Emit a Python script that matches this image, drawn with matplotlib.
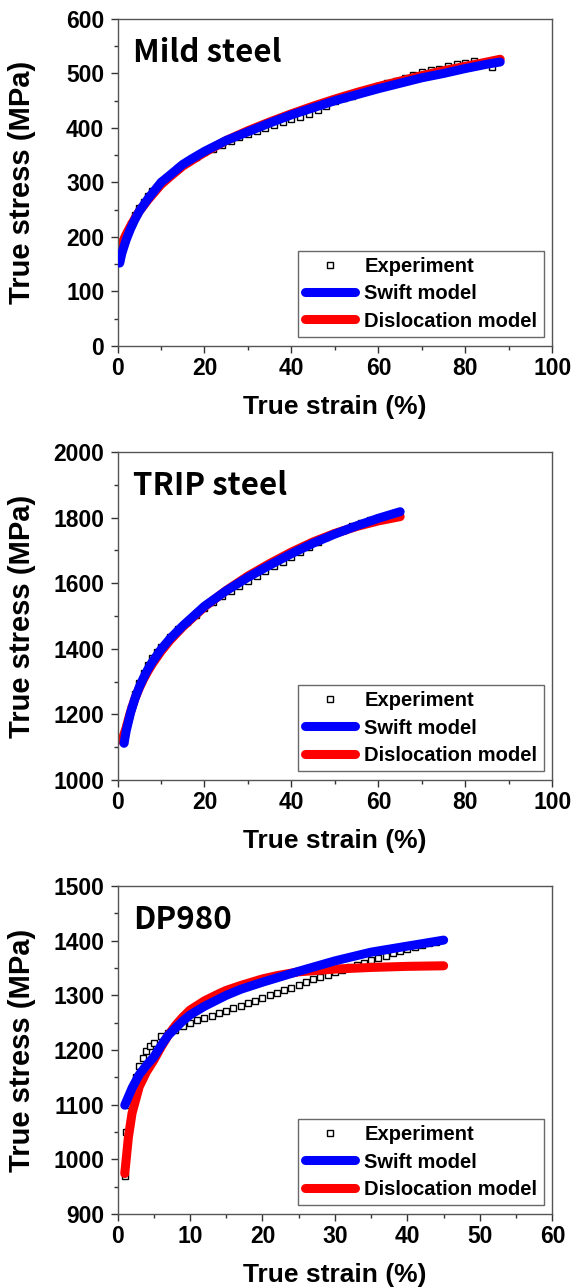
import matplotlib.pyplot as plt
from matplotlib.ticker import MultipleLocator

# ---- Mild steel (strain %, stress MPa)
mild_exp_x = [0.5, 1, 2, 3, 4, 5, 6, 7, 8, 9, 10, 12, 14, 16, 18, 20, 22, 24, 26, 28, 30,
              32, 34, 36, 38, 40, 42, 44, 46, 48, 50, 52, 54, 56, 58, 60, 62, 64, 66, 68,
              70, 72, 74, 76, 78, 80, 82, 84, 86]
mild_exp_y = [160, 178, 203, 224, 240, 254, 265, 275, 284, 292, 300, 314, 326, 337, 347, 355,
              362, 369, 376, 383, 389, 395, 400, 406, 411, 416, 420, 425, 433, 440, 450, 455,
              459, 467, 472, 477, 482, 486, 491, 498, 503, 507, 508, 513, 518, 520, 522, 517, 512]
mild_swift_x = [0.5, 1, 2, 3, 4, 5, 7, 10, 12, 15, 17, 20, 25, 30, 35, 40, 45, 50, 55, 60, 65,
                70, 75, 80, 85, 88]
mild_swift_y = [152, 170, 195, 215, 232, 247, 270, 300, 313, 333, 343, 357, 377, 393, 409, 424,
                437, 450, 461, 472, 482, 492, 500, 509, 517, 521]
mild_disl_x = [0.3, 1, 2, 3, 4, 5, 7, 10, 12, 15, 17, 20, 25, 30, 35, 40, 45, 50, 55, 60, 65,
               70, 75, 80, 85, 88]
mild_disl_y = [175, 188, 205, 220, 234, 247, 268, 296, 310, 330, 340, 355, 377, 395, 411, 426,
               440, 453, 465, 476, 486, 496, 505, 513, 521, 526]

# ---- TRIP steel
trip_exp_x = [1.5, 2, 3, 4, 5, 6, 7, 8, 9, 10, 12, 14, 16, 18, 20, 22, 24, 26, 28, 30, 32, 34,
              36, 38, 40, 42, 44, 46, 48, 50, 52, 54, 56, 58, 60, 62, 64]
trip_exp_y = [1120, 1165, 1220, 1262, 1295, 1325, 1350, 1372, 1390, 1405, 1435, 1460, 1482, 1503,
              1524, 1543, 1560, 1576, 1591, 1606, 1621, 1636, 1651, 1666, 1681, 1696, 1710, 1725,
              1740, 1752, 1762, 1773, 1783, 1792, 1800, 1806, 1812]
trip_swift_x = [1.5, 2, 3, 4, 5, 6, 7, 8, 10, 12, 15, 20, 25, 30, 35, 40, 45, 50, 55, 60, 65]
trip_swift_y = [1112, 1150, 1205, 1248, 1283, 1312, 1338, 1360, 1398, 1430, 1470, 1530, 1577,
                1618, 1655, 1690, 1722, 1750, 1775, 1798, 1818]
trip_disl_x = [1, 2, 3, 4, 5, 6, 7, 8, 10, 12, 15, 20, 25, 30, 35, 40, 45, 50, 55, 60, 65]
trip_disl_y = [1120, 1160, 1208, 1248, 1280, 1308, 1332, 1354, 1392, 1425, 1467, 1528, 1578,
               1622, 1660, 1695, 1726, 1752, 1773, 1790, 1803]

# ---- DP980
dp_exp_x = [1, 1.2, 1.5, 2, 2.5, 3, 3.5, 4, 4.5, 5, 6, 7, 8, 9, 10, 11, 12, 13, 14, 15, 16, 17,
            18, 19, 20, 21, 22, 23, 24, 25, 26, 27, 28, 29, 30, 31, 32, 33, 34, 35, 36, 37, 38,
            39, 40, 41, 42, 43, 44]
dp_exp_y = [970, 1050, 1100, 1130, 1150, 1170, 1185, 1198, 1207, 1213, 1225, 1232, 1237, 1243,
            1249, 1254, 1258, 1262, 1267, 1271, 1276, 1281, 1286, 1290, 1296, 1300, 1305, 1310,
            1314, 1319, 1324, 1329, 1334, 1338, 1343, 1347, 1352, 1356, 1360, 1364, 1368, 1372,
            1377, 1381, 1385, 1389, 1392, 1395, 1398]
dp_swift_x = [1, 2, 3, 4, 5, 6, 7, 8, 9, 10, 12, 15, 17, 20, 25, 30, 35, 40, 45]
dp_swift_y = [1099, 1130, 1155, 1172, 1187, 1208, 1227, 1240, 1253, 1264, 1280, 1300, 1311,
              1324, 1344, 1363, 1379, 1390, 1401]
dp_disl_x = [1, 1.5, 2, 3, 4, 5, 6, 7, 8, 9, 10, 12, 14, 15, 17, 20, 22, 25, 30, 35, 40, 45]
dp_disl_y = [974, 1040, 1084, 1133, 1160, 1181, 1205, 1227, 1245, 1260, 1273, 1290, 1303, 1309,
             1318, 1330, 1336, 1343, 1348, 1351, 1353, 1354]

panels = [
    ("Mild steel", mild_exp_x, mild_exp_y, mild_swift_x, mild_swift_y, mild_disl_x, mild_disl_y,
     (0, 100), 20, 10, (0, 600), 100, 50),
    ("TRIP steel", trip_exp_x, trip_exp_y, trip_swift_x, trip_swift_y, trip_disl_x, trip_disl_y,
     (0, 100), 20, 10, (1000, 2000), 200, 100),
    ("DP980", dp_exp_x, dp_exp_y, dp_swift_x, dp_swift_y, dp_disl_x, dp_disl_y,
     (0, 60), 10, 5, (900, 1500), 100, 50),
]
# axes boxes (left, bottom, width, height) in figure fractions
boxes = [(0.204, 0.7312, 0.755, 0.2541),
         (0.204, 0.3939, 0.755, 0.2549),
         (0.204, 0.0567, 0.755, 0.2549)]

plt.rcParams['font.family'] = ['Liberation Sans', 'DejaVu Sans']
plt.rcParams['font.weight'] = 'bold'

fig = plt.figure(figsize=(5.76, 12.87), dpi=100)
for (title, ex, ey, sx, sy, dx, dy, xlim, xmaj, xmin, ylim, ymaj, ymin), box in zip(panels, boxes):
    ax = fig.add_axes(box)
    h1, = ax.plot(ex, ey, ls='none', marker='s', ms=4, mfc='white', mec='black', mew=1, zorder=1)
    h3, = ax.plot(dx, dy, color='#ff0000', lw=6.5, solid_capstyle='round', zorder=2)
    h2, = ax.plot(sx, sy, color='#0000ff', lw=6.5, solid_capstyle='round', zorder=3)
    ax.set_xlim(*xlim)
    ax.set_ylim(*ylim)
    ax.xaxis.set_major_locator(MultipleLocator(xmaj))
    ax.xaxis.set_minor_locator(MultipleLocator(xmin))
    ax.yaxis.set_major_locator(MultipleLocator(ymaj))
    ax.yaxis.set_minor_locator(MultipleLocator(ymin))
    ax.tick_params(which='major', direction='out', length=5, width=1, labelsize=16.5, color='#333333')
    ax.tick_params(which='minor', direction='out', length=3, width=1, color='#333333')
    ax.tick_params(axis='x', which='major', pad=3)
    ax.tick_params(axis='y', which='major', pad=4.5)
    for lab in ax.get_xticklabels() + ax.get_yticklabels():
        lab.set_fontweight('bold')
    for sp in ax.spines.values():
        sp.set_color('#555555')
        sp.set_linewidth(1)
    ax.set_xlabel('True strain (%)', fontsize=19, fontweight='bold')
    ax.set_ylabel('True stress (MPa)', fontsize=21, fontweight='bold')
    ax.xaxis.set_label_coords(0.5, -0.150)
    ax.yaxis.set_label_coords(-0.187, 0.5)
    ax.text(0.036, 0.868, title, transform=ax.transAxes, fontsize=22.5, fontweight='bold',
            family=['Noto Sans CJK KR', 'DejaVu Sans'], va='baseline', ha='left')
    leg = ax.legend([h1, h2, h3], ['Experiment', 'Swift model', 'Dislocation model'],
                    loc='lower right', bbox_to_anchor=(0.980, 0.0275), fontsize=14.5, frameon=True,
                    fancybox=False, handlelength=2.5, handletextpad=0.45, borderpad=0.32,
                    labelspacing=0.4, borderaxespad=0)
    leg.get_frame().set_edgecolor('#444444')
    leg.get_frame().set_linewidth(1)
    for t in leg.get_texts():
        t.set_fontweight('bold')

fig.savefig('out.png', dpi=100)
